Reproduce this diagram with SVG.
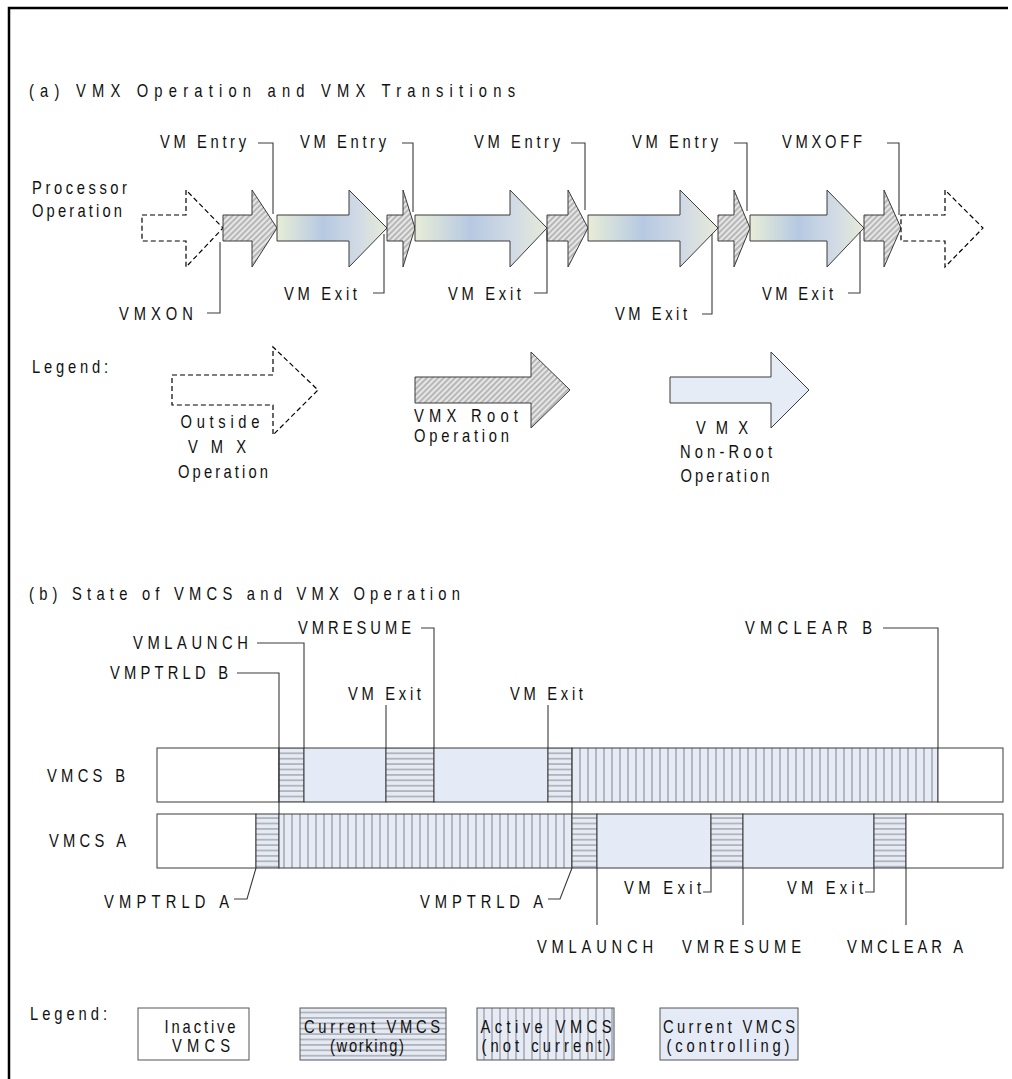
<svg xmlns="http://www.w3.org/2000/svg" width="1012" height="1079" viewBox="0 0 1012 1079">
<defs>
<style>
.t{font-family:"Liberation Sans",Arial,sans-serif;font-size:18px;fill:#111;}
.m{text-anchor:middle;}
.ld{fill:none;stroke:#3a3a3a;stroke-width:1.1;}
.ar{stroke:#3a3a3a;stroke-width:1;}
.dash{fill:#fff;stroke:#000;stroke-width:1.2;stroke-dasharray:5,3;}
.bar{stroke:#3a3a3a;stroke-width:1;}
.bx{stroke:#555;stroke-width:1;}
</style>
<pattern id="hatch" patternUnits="userSpaceOnUse" width="4" height="4" patternTransform="rotate(45)">
<rect width="4" height="4" fill="#e6e6e6"/>
<line x1="1" y1="0" x2="1" y2="4" stroke="#a8a8a8" stroke-width="1.5"/>
</pattern>
<pattern id="hs" patternUnits="userSpaceOnUse" width="8" height="5.4">
<rect width="8" height="5.4" fill="#e6eaf3"/>
<line x1="0" y1="2.7" x2="8" y2="2.7" stroke="#a9adb8" stroke-width="1.6"/>
</pattern>
<pattern id="vs" patternUnits="userSpaceOnUse" width="8" height="8">
<rect width="8" height="8" fill="#e7ebf4"/>
<line x1="4" y1="0" x2="4" y2="8" stroke="#b3b7c3" stroke-width="2"/>
</pattern>
<linearGradient id="blu" x1="0" y1="0" x2="1" y2="0">
<stop offset="0" stop-color="#e8edd7"/>
<stop offset="0.42" stop-color="#b6c9e2"/>
<stop offset="0.75" stop-color="#d2dbe5"/>
<stop offset="1" stop-color="#e6ebd8"/>
</linearGradient>
</defs>
<rect width="1012" height="1079" fill="#fff"/>
<path d="M9 1079 V8 H1008" fill="none" stroke="#000" stroke-width="2.5"/>

<g id="section-a">
<text class="t" transform="matrix(0.82 0 0 1 29 97)" textLength="592.7">(a) VMX Operation and VMX Transitions</text>
<text class="t" transform="matrix(0.82 0 0 1 32 194)" textLength="115.9">Processor</text>
<text class="t" transform="matrix(0.82 0 0 1 32 217)" textLength="109.8">Operation</text>
</g>

<g id="arrows-a">
<path id="outside-1" class="dash" d="M142 215 H186 V190 L223 228 L186 267 V241 H142 Z"/>
<path id="root-1" class="ar" fill="url(#hatch)" d="M223 215 H252 V190 L277 228 L252 267 V241 H223 Z"/>
<path id="nonroot-1" class="ar" fill="url(#blu)" d="M277 215 H349 V190 L387 228 L349 267 V241 H277 Z"/>
<path id="root-2" class="ar" fill="url(#hatch)" d="M387 215 H403 V190 L415 228 L403 267 V241 H387 Z"/>
<path id="nonroot-2" class="ar" fill="url(#blu)" d="M415 215 H510 V190 L547 228 L510 267 V241 H415 Z"/>
<path id="root-3" class="ar" fill="url(#hatch)" d="M547 215 H568 V190 L588 228 L568 267 V241 H547 Z"/>
<path id="nonroot-3" class="ar" fill="url(#blu)" d="M588 215 H680 V190 L718 228 L680 267 V241 H588 Z"/>
<path id="root-4" class="ar" fill="url(#hatch)" d="M718 215 H734 V190 L750 228 L734 267 V241 H718 Z"/>
<path id="nonroot-4" class="ar" fill="url(#blu)" d="M750 215 H827 V190 L864 228 L827 267 V241 H750 Z"/>
<path id="root-5" class="ar" fill="url(#hatch)" d="M864 215 H884 V190 L901 228 L884 267 V241 H864 Z"/>
<path id="outside-2" class="dash" d="M901 215 H945 V190 L983 228 L945 267 V241 H901 Z"/>
</g>

<g id="labels-a">
<text class="t" transform="matrix(0.82 0 0 1 160 148)" textLength="104.9">VM Entry</text>
<text class="t" transform="matrix(0.82 0 0 1 300 148)" textLength="104.9">VM Entry</text>
<text class="t" transform="matrix(0.82 0 0 1 474 148)" textLength="104.9">VM Entry</text>
<text class="t" transform="matrix(0.82 0 0 1 632 148)" textLength="104.9">VM Entry</text>
<text class="t" transform="matrix(0.82 0 0 1 782 148)" textLength="97.6">VMXOFF</text>
<text class="t" transform="matrix(0.82 0 0 1 119 320)" textLength="90.2">VMXON</text>
<text class="t" transform="matrix(0.82 0 0 1 284 300)" textLength="89">VM Exit</text>
<text class="t" transform="matrix(0.82 0 0 1 448 300)" textLength="89">VM Exit</text>
<text class="t" transform="matrix(0.82 0 0 1 615 320)" textLength="87.8">VM Exit</text>
<text class="t" transform="matrix(0.82 0 0 1 762 300)" textLength="86.6">VM Exit</text>
</g>

<g id="legend-a">
<text class="t" transform="matrix(0.82 0 0 1 32 373)" textLength="92.7">Legend:</text>
<path class="dash" d="M172 375 H273 V347 L318 390 L273 435 V405 H172 Z"/>
<text class="t m" transform="matrix(0.82 0 0 1 220 428)" textLength="96.3">Outside</text>
<text class="t m" transform="matrix(0.82 0 0 1 217 453)" textLength="70.7">VMX</text>
<text class="t m" transform="matrix(0.82 0 0 1 223 478)" textLength="109.8">Operation</text>
<path class="ar" fill="url(#hatch)" d="M415 377 H531 V352 L570 390 L531 428 V403 H415 Z"/>
<text class="t" transform="matrix(0.82 0 0 1 414 422)" textLength="126.8">VMX Root</text>
<text class="t" transform="matrix(0.82 0 0 1 414 442)" textLength="115.9">Operation</text>
<path class="ar" fill="#e6ecf6" d="M670 377 H771 V352 L809 390 L771 428 V403 H670 Z"/>
<text class="t m" transform="matrix(0.82 0 0 1 722 434)" textLength="63.4">VMX</text>
<text class="t m" transform="matrix(0.82 0 0 1 726 458)" textLength="112.2">Non-Root</text>
<text class="t m" transform="matrix(0.82 0 0 1 725 482)" textLength="108.5">Operation</text>
</g>

<g id="section-b">
<text class="t" transform="matrix(0.82 0 0 1 29 600)" textLength="525.6">(b) State of VMCS and VMX Operation</text>
<text class="t" transform="matrix(0.82 0 0 1 47 782)" textLength="95.1">VMCS B</text>
<text class="t" transform="matrix(0.82 0 0 1 49 847)" textLength="93.9">VMCS A</text>
</g>

<g id="vmcs-b">
<rect class="bar" x="157" y="748" width="122" height="54" fill="#fff"/>
<rect class="bar" x="279" y="748" width="25" height="54" fill="url(#hs)"/>
<rect class="bar" x="304" y="748" width="82" height="54" fill="#e5ebf6"/>
<rect class="bar" x="386" y="748" width="48" height="54" fill="url(#hs)"/>
<rect class="bar" x="434" y="748" width="114" height="54" fill="#e5ebf6"/>
<rect class="bar" x="548" y="748" width="24" height="54" fill="url(#hs)"/>
<rect class="bar" x="572" y="748" width="366" height="54" fill="url(#vs)"/>
<rect class="bar" x="938" y="748" width="65" height="54" fill="#fff"/>
</g>

<g id="vmcs-a">
<rect class="bar" x="157" y="814" width="99" height="54" fill="#fff"/>
<rect class="bar" x="256" y="814" width="23" height="54" fill="url(#hs)"/>
<rect class="bar" x="279" y="814" width="293" height="54" fill="url(#vs)"/>
<rect class="bar" x="572" y="814" width="25" height="54" fill="url(#hs)"/>
<rect class="bar" x="597" y="814" width="114" height="54" fill="#e5ebf6"/>
<rect class="bar" x="711" y="814" width="32" height="54" fill="url(#hs)"/>
<rect class="bar" x="743" y="814" width="131" height="54" fill="#e5ebf6"/>
<rect class="bar" x="874" y="814" width="32" height="54" fill="url(#hs)"/>
<rect class="bar" x="906" y="814" width="97" height="54" fill="#fff"/>
</g>

<g id="labels-b">
<text class="t" transform="matrix(0.82 0 0 1 298 634)" textLength="137.8">VMRESUME</text>
<text class="t" transform="matrix(0.82 0 0 1 133 649)" textLength="140.2">VMLAUNCH</text>
<text class="t" transform="matrix(0.82 0 0 1 110 679)" textLength="143.9">VMPTRLD B</text>
<text class="t" transform="matrix(0.82 0 0 1 348 700)" textLength="89">VM Exit</text>
<text class="t" transform="matrix(0.82 0 0 1 510 700)" textLength="89">VM Exit</text>
<text class="t" transform="matrix(0.82 0 0 1 745 634)" textLength="154.9">VMCLEAR B</text>
<text class="t" transform="matrix(0.82 0 0 1 104 908)" textLength="152.4">VMPTRLD A</text>
<text class="t" transform="matrix(0.82 0 0 1 420 908)" textLength="150">VMPTRLD A</text>
<text class="t" transform="matrix(0.82 0 0 1 624 894)" textLength="93.9">VM Exit</text>
<text class="t" transform="matrix(0.82 0 0 1 787 894)" textLength="92.7">VM Exit</text>
<text class="t" transform="matrix(0.82 0 0 1 537 953)" textLength="141.5">VMLAUNCH</text>
<text class="t" transform="matrix(0.82 0 0 1 682 953)" textLength="145.1">VMRESUME</text>
<text class="t" transform="matrix(0.82 0 0 1 847 953)" textLength="141.5">VMCLEAR A</text>
</g>

<g id="connectors">
<path class="ld" d="M258 143 H273 V214"/>
<path class="ld" d="M402 143 H413 V212"/>
<path class="ld" d="M571 143 H585 V210"/>
<path class="ld" d="M734 143 H747 V211"/>
<path class="ld" d="M887 143 H899 V215"/>
<path class="ld" d="M207 313 H220 V242"/>
<path class="ld" d="M373 293 H384 V234"/>
<path class="ld" d="M534 293 H547 V230"/>
<path class="ld" d="M702 314 H712 V234"/>
<path class="ld" d="M848 293 H860 V232"/>
<path class="ld" d="M237 673 H279 V814"/>
<path class="ld" d="M257 643 H304 V748"/>
<path class="ld" d="M421 628 H434 V748"/>
<path class="ld" d="M386 705 V748"/>
<path class="ld" d="M548 705 V748"/>
<path class="ld" d="M883 628 H938 V748"/>
<path class="ld" d="M572 802 V814"/>
<path class="ld" d="M234 899 H247 L256 868"/>
<path class="ld" d="M548 899 H560 L572 868"/>
<path class="ld" d="M703 892 H711 V868"/>
<path class="ld" d="M865 892 H874 V868"/>
<path class="ld" d="M597 868 V925"/>
<path class="ld" d="M743 868 V925"/>
<path class="ld" d="M906 868 V925"/>
</g>

<g id="legend-b">
<text class="t" transform="matrix(0.82 0 0 1 30 1020)" textLength="93.9">Legend:</text>
<g id="lg-inactive">
<rect class="bx" x="138" y="1008" width="111" height="52" fill="#fff"/>
<text class="t m" transform="matrix(0.82 0 0 1 200 1033)" textLength="86.6">Inactive</text>
<text class="t m" transform="matrix(0.82 0 0 1 201 1052)" textLength="70.7">VMCS</text>
</g>
<g id="lg-working">
<rect class="bx" x="300" y="1008" width="146" height="52" fill="url(#hs)"/>
<text class="t m" transform="matrix(0.82 0 0 1 372 1033)" textLength="165.9">Current VMCS</text>
<text class="t m" transform="matrix(0.82 0 0 1 367 1052)" textLength="90.2">(working)</text>
</g>
<g id="lg-active">
<rect class="bx" x="477" y="1008" width="137" height="52" fill="url(#vs)"/>
<text class="t m" transform="matrix(0.82 0 0 1 546 1033)" textLength="159.8">Active VMCS</text>
<text class="t m" transform="matrix(0.82 0 0 1 546 1052)" textLength="157.3">(not current)</text>
</g>
<g id="lg-controlling">
<rect class="bx" x="660" y="1008" width="138" height="52" fill="#e5ebf6"/>
<text class="t m" transform="matrix(0.82 0 0 1 729 1033)" textLength="161">Current VMCS</text>
<text class="t m" transform="matrix(0.82 0 0 1 728 1052)" textLength="150">(controlling)</text>
</g>
</g>
</svg>
